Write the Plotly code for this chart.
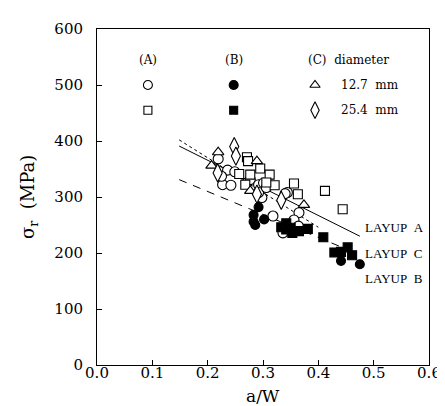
import plotly.graph_objects as go

# ---- data (a/W, sigma_r MPa) ----
a_circ_x = [0.219, 0.236, 0.227, 0.242, 0.225, 0.249, 0.271, 0.277, 0.292, 0.301, 0.298, 0.292, 0.306, 0.344, 0.340, 0.318, 0.365, 0.356, 0.364, 0.336, 0.350]
a_circ_y = [368, 348, 322, 321, 337, 345, 325, 331, 322, 325, 299, 308, 317, 308, 306, 266, 272, 259, 248, 236, 240]

a_sq_x = [0.271, 0.273, 0.295, 0.312, 0.321, 0.257, 0.277, 0.268, 0.356, 0.363, 0.412, 0.444, 0.306]
a_sq_y = [371, 364, 351, 340, 321, 341, 340, 322, 324, 305, 311, 278, 326]

b_circ_x = [0.292, 0.283, 0.283, 0.302, 0.441, 0.475, 0.286]
b_circ_y = [282, 268, 256, 260, 186, 180, 250]

b_sq_x = [0.333, 0.342, 0.350, 0.365, 0.381, 0.409, 0.429, 0.441, 0.453, 0.461, 0.342, 0.353]
b_sq_y = [246, 253, 245, 239, 243, 228, 201, 202, 210, 196, 242, 236]

c_tri_x = [0.219, 0.207, 0.289, 0.277, 0.374]
c_tri_y = [380, 356, 364, 311, 286]

c_dia_x = [0.248, 0.251, 0.218, 0.333, 0.289]
c_dia_y = [390, 373, 343, 294, 305]

# fit lines
line_a_x = [0.1485, 0.475]
line_a_y = [391, 230]
line_c_x = [0.1485, 0.400]
line_c_y = [402, 246]
line_b_x = [0.1485, 0.470]
line_b_y = [331, 199]

# tick labels
x_ticks = [0.0, 0.1, 0.2, 0.3, 0.4, 0.5, 0.6]
y_ticks = [0, 100, 200, 300, 400, 500, 600]

# legend key layout
key_x = [0.092, 0.247, 0.394]
key_y = [500, 455]

SERIF = "DejaVu Serif"
TIMES = "Liberation Serif"

fig = go.Figure()

def pts(x, y, symbol, size, filled=False):
    fig.add_trace(go.Scatter(
        x=x, y=y, mode="markers",
        marker=dict(symbol=symbol, size=size,
                    color="black" if filled else "white",
                    line=dict(color="black", width=1.1)),
        showlegend=False, hoverinfo="skip"))

def ln(x, y, dash):
    fig.add_trace(go.Scatter(x=x, y=y, mode="lines",
                             line=dict(color="black", width=1, dash=dash),
                             showlegend=False, hoverinfo="skip"))

ln(line_a_x, line_a_y, "solid")
ln(line_c_x, line_c_y, "3px,3px")
ln(line_b_x, line_b_y, "8px,7px")

pts(a_circ_x, a_circ_y, "circle", 10)
pts(a_sq_x, a_sq_y, "square", 9)
pts(c_tri_x, c_tri_y, "triangle-up", 10)
pts(c_dia_x, c_dia_y, "diamond-tall", 13)
pts(b_circ_x, b_circ_y, "circle", 9, filled=True)
pts(b_sq_x, b_sq_y, "square", 9, filled=True)

# legend keys
pts([key_x[0]], [key_y[0]], "circle", 9)
pts([key_x[0]], [key_y[1]], "square", 8)
pts([key_x[1]], [key_y[0]], "circle", 9, filled=True)
pts([key_x[1]], [key_y[1]], "square", 8, filled=True)
pts([key_x[2]], [key_y[0]], "triangle-up", 9)
pts([key_x[2]], [key_y[1]], "diamond-tall", 12)

ann = []
def txt(x, y, t, size=12, font=SERIF, xanchor="center"):
    ann.append(dict(x=x, y=y, text=t, showarrow=False, xanchor=xanchor,
                    yanchor="middle", font=dict(family=font, size=size, color="black")))

txt(key_x[0], 545, "(A)")
txt(key_x[1], 545, "(B)")
txt(0.378, 545, "(C)&nbsp;&nbsp;diameter", xanchor="left")
txt(0.437, 500, "12.7&nbsp;&nbsp;mm", xanchor="left")
txt(0.437, 455, "25.4&nbsp;&nbsp;mm", xanchor="left")

txt(0.481, 245, "LAYUP&nbsp;&nbsp;A", size=13, font=TIMES, xanchor="left")
txt(0.481, 200, "LAYUP&nbsp;&nbsp;C", size=13, font=TIMES, xanchor="left")
txt(0.481, 154, "LAYUP&nbsp;&nbsp;B", size=13, font=TIMES, xanchor="left")

# axis titles
ann.append(dict(xref="paper", yref="paper", x=-0.205, y=0.5, text="σ<sub>r</sub>&nbsp;&nbsp;(MPa)",
                textangle=-90, showarrow=False, xanchor="center", yanchor="middle",
                font=dict(family=SERIF, size=18, color="black")))
ann.append(dict(xref="paper", yref="paper", x=0.5, y=-0.092, text="a/W",
                showarrow=False, xanchor="center", yanchor="middle",
                font=dict(family=SERIF, size=17, color="black")))

axis_common = dict(showgrid=False, zeroline=False, showline=True, linecolor="black",
                   linewidth=1, mirror=True, ticks="inside", ticklen=5, tickcolor="black",
                   tickfont=dict(family=SERIF, size=15, color="black"))

fig.update_layout(
    width=445, height=406,
    margin=dict(l=89, r=14, t=13, b=49),
    paper_bgcolor="white", plot_bgcolor="white",
    xaxis=dict(range=[0, 0.6], tickvals=x_ticks, ticktext=[f"{v:.1f}" for v in x_ticks],
               ticklabelstandoff=-6, **axis_common),
    yaxis=dict(range=[0, 600], tickvals=y_ticks, ticktext=[str(v) for v in y_ticks],
               ticklabelstandoff=10, **axis_common),
    annotations=ann,
    showlegend=False,
)

fig.write_html("out.html")
